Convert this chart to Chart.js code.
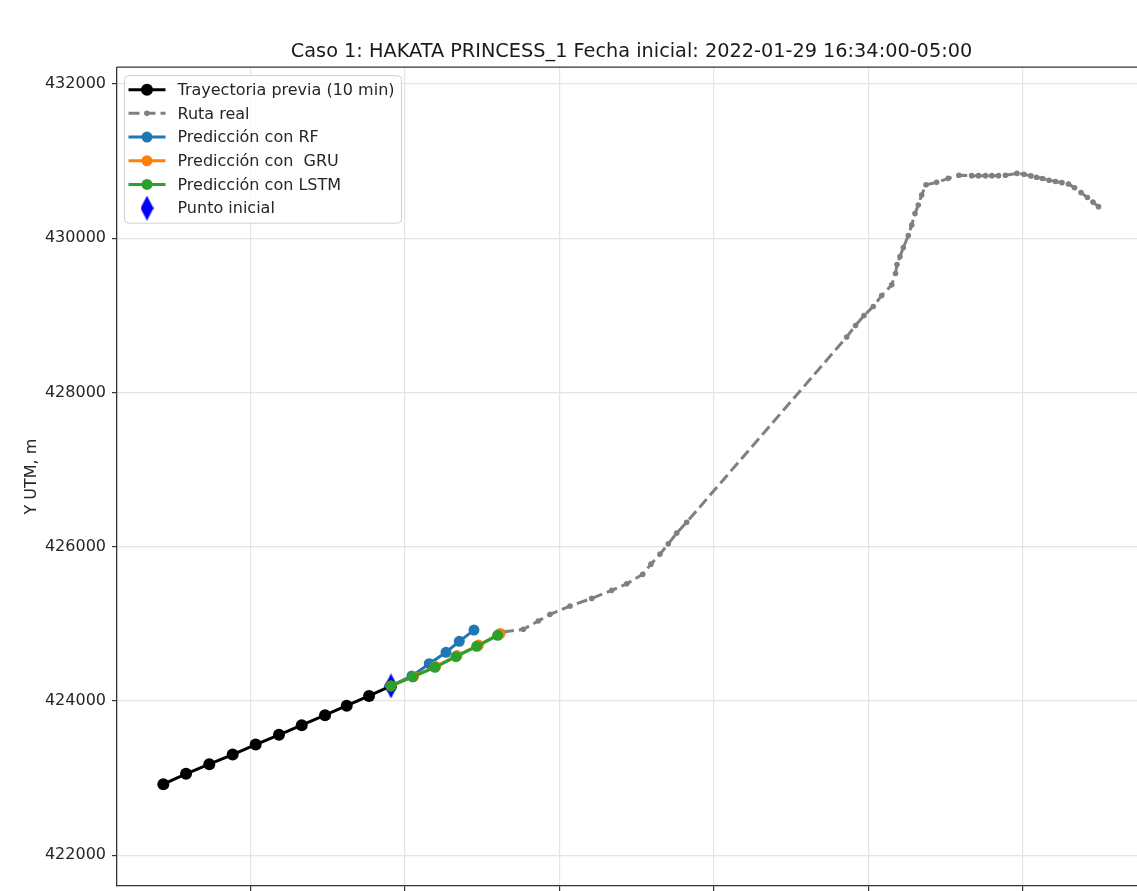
<!DOCTYPE html>
<html lang="es">
<head>
<meta charset="utf-8">
<title>Caso 1: HAKATA PRINCESS_1</title>
<script src="https://cdn.jsdelivr.net/npm/chart.js@4.4.1/dist/chart.umd.min.js"></script>
<style>
  html, body { margin: 0; padding: 0; background: #fff; overflow: hidden; }
  #wrap { width: 1137px; height: 891px; overflow: hidden; }
</style>
</head>
<body>
<div id="wrap"><canvas id="trayectoriaChart" width="1263" height="891"></canvas></div>
<script>
// Datos en coordenadas UTM (m)
const previaX = [576871, 577165, 577466, 577769, 578067, 578369, 578663, 578965, 579246, 579535, 579819];
const previaY = [422921, 423055, 423180, 423305, 423434, 423560, 423685, 423815, 423939, 424065, 424194];

const rutaX = [581270, 581533, 581727, 581879, 582138, 582419, 582678, 582872, 583079, 583186,
               583303, 583411, 583519, 583649, 585721, 585835, 585945, 586065, 586174, 586304,
               586353, 586372, 586411, 586454, 586519, 586563, 586605, 586648, 586692, 586748,
               586886, 587037, 587175, 587340, 587428, 587518, 587602, 587687, 587777, 587926,
               588017, 588107, 588179, 588256, 588341, 588425, 588509, 588593, 588671, 588755,
               588839, 588910, 588982];
const rutaY = [424894, 424929, 425036, 425123, 425230, 425330, 425434, 425519, 425641, 425774,
               425904, 426037, 426176, 426318, 428720, 428869, 428999, 429115, 429258, 429396,
               429543, 429659, 429763, 429879, 430035, 430173, 430320, 430432, 430562, 430695,
               430725, 430777, 430818, 430812, 430812, 430812, 430812, 430812, 430818, 430841,
               430829, 430809, 430792, 430775, 430753, 430737, 430721, 430704, 430656, 430592,
               430529, 430469, 430410];

const rfX = [579819, 580091, 580315, 580532, 580704, 580894];
const rfY = [424194, 424324, 424483, 424631, 424773, 424919];

const gruX = [579819, 580111, 580396, 580674, 580953, 581231];
const gruY = [424194, 424317, 424447, 424589, 424725, 424874];

const lstmX = [579819, 580100, 580389, 580661, 580929, 581201];
const lstmY = [424194, 424311, 424436, 424574, 424708, 424851];

const inicioX = [579819];
const inicioY = [424194];

// Ticks de los ejes (las etiquetas X quedan fuera del recorte)
const ticksX = [578000, 580000, 582000, 584000, 586000, 588000];
const ticksY = [422000, 424000, 426000, 428000, 430000, 432000];

const tituloGrafico = 'Caso 1: HAKATA PRINCESS_1 Fecha inicial: 2022-01-29 16:34:00-05:00';
const tituloEjeY = 'Y UTM, m';
const rangoX = [576271, 589597];
const rangoY = [421600, 432219];

function puntos(xs, ys) {
    return xs.map((x, i) => ({ x: x, y: ys[i] }));
}

// Marcador diamante fino (como 'd' de matplotlib)
const diamante = document.createElement('canvas');
diamante.width = 13;
diamante.height = 25;
const dctx = diamante.getContext('2d');
dctx.fillStyle = '#0000ff';
dctx.beginPath();
dctx.moveTo(6.5, 0);
dctx.lineTo(13, 12.5);
dctx.lineTo(6.5, 25);
dctx.lineTo(0, 12.5);
dctx.closePath();
dctx.fill();

const fuente = 'DejaVu Sans';

// Borde superior del área (el eje derecho queda fuera del recorte)
const bordeSuperior = {
    id: 'bordeSuperior',
    afterDraw(chart) {
        const { ctx, chartArea } = chart;
        ctx.save();
        ctx.strokeStyle = '#333';
        ctx.lineWidth = 1.3;
        ctx.beginPath();
        ctx.moveTo(chartArea.left, chartArea.top);
        ctx.lineTo(chartArea.right, chartArea.top);
        ctx.stroke();
        ctx.restore();
    }
};

// Leyenda dentro del gráfico, estilo matplotlib (línea + marcador)
const leyenda = {
    id: 'leyendaInterna',
    afterDraw(chart) {
        const { ctx, chartArea } = chart;
        const sets = chart.data.datasets;
        ctx.save();
        ctx.font = '16px "' + fuente + '"';
        let maxW = 0;
        sets.forEach(ds => { maxW = Math.max(maxW, ctx.measureText(ds.label).width); });

        const L = chartArea.left + 7.5;
        const T = chartArea.top + 8.5;
        const fila = 23.7;
        const W = 53 + maxW + 7;
        const H = 14 + fila * (sets.length - 1) + 15;

        ctx.beginPath();
        ctx.roundRect(L, T, W, H, 4);
        ctx.fillStyle = 'rgba(255,255,255,0.8)';
        ctx.fill();
        ctx.strokeStyle = '#d0d0d0';
        ctx.lineWidth = 1;
        ctx.stroke();

        sets.forEach((ds, i) => {
            const y = T + 14 + i * fila;
            const cx = L + 22.5;
            if (ds.showLine) {
                ctx.save();
                ctx.strokeStyle = ds.borderColor;
                ctx.lineWidth = ds.borderWidth;
                ctx.setLineDash(ds.borderDash || []);
                ctx.beginPath();
                ctx.moveTo(L + 4, y);
                ctx.lineTo(L + 41, y);
                ctx.stroke();
                ctx.restore();
            }
            if (ds.pointStyle === diamante) {
                ctx.drawImage(diamante, cx - diamante.width / 2, y - diamante.height / 2);
            } else {
                ctx.fillStyle = ds.pointBackgroundColor;
                ctx.beginPath();
                ctx.arc(cx, y, ds.pointRadius, 0, Math.PI * 2);
                ctx.fill();
            }
            ctx.fillStyle = '#262626';
            ctx.textBaseline = 'middle';
            ctx.textAlign = 'left';
            ctx.fillText(ds.label, L + 53, y + 1);
        });
        ctx.restore();
    }
};

const ctx = document.getElementById('trayectoriaChart').getContext('2d');

new Chart(ctx, {
    type: 'scatter',
    data: {
        datasets: [
            {
                label: 'Trayectoria previa (10 min)',
                data: puntos(previaX, previaY),
                showLine: true,
                borderColor: '#000000',
                borderWidth: 3,
                pointBackgroundColor: '#000000',
                pointBorderWidth: 0,
                pointRadius: 6,
                order: 4
            },
            {
                label: 'Ruta real',
                data: puntos(rutaX, rutaY),
                showLine: true,
                borderColor: '#808080',
                borderWidth: 3,
                borderDash: [11, 5],
                pointBackgroundColor: '#808080',
                pointBorderWidth: 0,
                pointRadius: 2.8,
                order: 3
            },
            {
                label: 'Predicción con RF',
                data: puntos(rfX, rfY),
                showLine: true,
                borderColor: '#1f77b4',
                borderWidth: 3,
                pointBackgroundColor: '#1f77b4',
                pointBorderWidth: 0,
                pointRadius: 5.5,
                order: 2
            },
            {
                label: 'Predicción con  GRU',
                data: puntos(gruX, gruY),
                showLine: true,
                borderColor: '#ff7f0e',
                borderWidth: 3,
                pointBackgroundColor: '#ff7f0e',
                pointBorderWidth: 0,
                pointRadius: 5.5,
                order: 1
            },
            {
                label: 'Predicción con LSTM',
                data: puntos(lstmX, lstmY),
                showLine: true,
                borderColor: '#2ca02c',
                borderWidth: 3,
                pointBackgroundColor: '#2ca02c',
                pointBorderWidth: 0,
                pointRadius: 5.5,
                order: 0
            },
            {
                label: 'Punto inicial',
                data: puntos(inicioX, inicioY),
                showLine: false,
                pointStyle: diamante,
                pointRadius: 10,
                order: 5
            }
        ]
    },
    options: {
        responsive: false,
        animation: false,
        events: [],
        layout: { autoPadding: false, padding: { left: 0, right: 117, top: 0, bottom: 0 } },
        plugins: {
            legend: { display: false },
            tooltip: { enabled: false },
            title: {
                display: true,
                fullSize: false,
                text: tituloGrafico,
                color: '#1a1a1a',
                font: { family: fuente, size: 19.3, weight: 'normal' },
                padding: { top: 40, bottom: 4 }
            }
        },
        scales: {
            x: {
                type: 'linear',
                min: rangoX[0],
                max: rangoX[1],
                ticks: { display: false },
                afterBuildTicks(scale) {
                    scale.ticks = ticksX.map(v => ({ value: v }));
                },
                grid: { color: '#e4e4e4', lineWidth: 1.2, tickColor: '#333', tickLength: 5 },
                border: { color: '#333', width: 1.3 },
                afterFit(scale) {
                    scale.height = 5;
                    scale.paddingLeft = 0;
                    scale.paddingRight = 0;
                }
            },
            y: {
                type: 'linear',
                min: rangoY[0],
                max: rangoY[1],
                afterBuildTicks(scale) {
                    scale.ticks = ticksY.map(v => ({ value: v }));
                },
                ticks: {
                    padding: 6,
                    color: '#262626',
                    font: { family: fuente, size: 16 },
                    callback: v => String(v)
                },
                grid: { color: '#e4e4e4', lineWidth: 1.2, tickColor: '#333', tickLength: 5 },
                border: { color: '#333', width: 1.3 },
                title: {
                    display: true,
                    text: tituloEjeY,
                    color: '#262626',
                    font: { family: fuente, size: 16 },
                    padding: { top: 22, bottom: 4 }
                },
                afterFit(scale) {
                    scale.width = 117;
                    scale.paddingTop = 0;
                    scale.paddingBottom = 0;
                }
            }
        }
    },
    plugins: [bordeSuperior, leyenda]
});
</script>
</body>
</html>
